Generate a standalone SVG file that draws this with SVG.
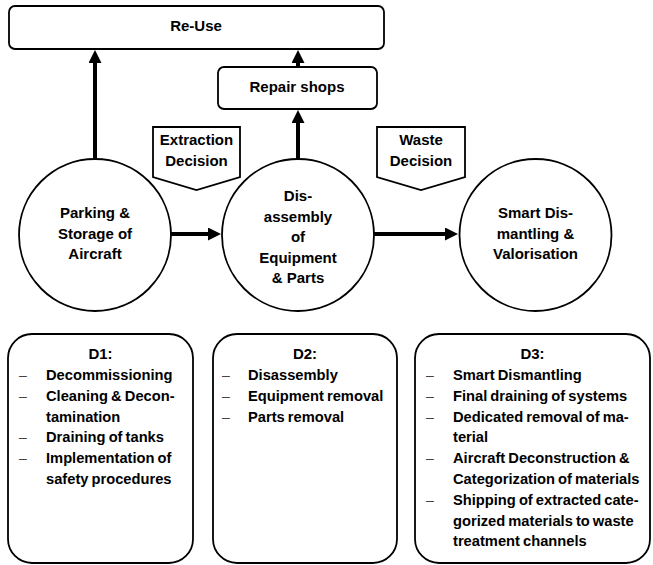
<svg xmlns="http://www.w3.org/2000/svg" width="653" height="565" viewBox="0 0 653 565">
<defs>
<style>
.box{fill:#fff;stroke:#000;stroke-width:1.8}
.t{font-family:"Liberation Sans",Arial,sans-serif;font-weight:bold;font-size:15px;fill:#000}
.c{text-anchor:middle}
.b{font-family:"Liberation Sans",Arial,sans-serif;font-weight:bold;font-size:14.7px;fill:#000;word-spacing:-1px}
.d{font-family:"Liberation Sans",Arial,sans-serif;font-size:14px;fill:#444}
.arr{stroke:#000;stroke-width:4;fill:none;marker-end:url(#ah)}
</style>
<marker id="ah" markerUnits="userSpaceOnUse" markerWidth="14" markerHeight="13" refX="1" refY="6.5" orient="auto">
<path d="M0,0 L13,6.5 L0,13 z" fill="#000"/>
</marker>
</defs>
<g id="connectors">
<line class="arr" x1="95" y1="159" x2="95" y2="62"/>
<line class="arr" x1="298" y1="159" x2="298" y2="122"/>
<line class="arr" x1="298" y1="67" x2="298" y2="62"/>
<line class="arr" x1="171" y1="234" x2="209" y2="234"/>
<line class="arr" x1="374" y1="234" x2="446" y2="234"/>
</g>
<g id="reuse">
<rect class="box" x="9" y="6" width="375" height="43" rx="6"/>
<text class="t c" x="196" y="31">Re-Use</text>
</g>
<g id="repair">
<rect class="box" x="218" y="67" width="159" height="42" rx="6"/>
<text class="t c" x="297" y="92">Repair shops</text>
</g>
<g id="extraction">
<polygon class="box" points="153,127 240,127 240,177 196.5,190 153,177"/>
<text class="t c" x="196.5" y="145">Extraction</text>
<text class="t c" x="196.5" y="166">Decision</text>
</g>
<g id="waste">
<polygon class="box" points="377,127 465,127 465,177 421,190 377,177"/>
<text class="t c" x="421" y="145">Waste</text>
<text class="t c" x="421" y="166">Decision</text>
</g>
<g id="parking">
<circle class="box" cx="95" cy="235" r="76"/>
<text class="t c" x="95" y="218">Parking &amp;</text>
<text class="t c" x="95" y="238.5">Storage of</text>
<text class="t c" x="95" y="259">Aircraft</text>
</g>
<g id="disassembly">
<circle class="box" cx="298" cy="235" r="76"/>
<text class="t c" x="298" y="201">Dis-</text>
<text class="t c" x="298" y="222">assembly</text>
<text class="t c" x="298" y="242">of</text>
<text class="t c" x="298" y="263">Equipment</text>
<text class="t c" x="298" y="283">&amp; Parts</text>
</g>
<g id="smart">
<circle class="box" cx="535.5" cy="235" r="76"/>
<text class="t c" x="535.5" y="218">Smart Dis-</text>
<text class="t c" x="535.5" y="238.5">mantling &amp;</text>
<text class="t c" x="535.5" y="259">Valorisation</text>
</g>
<g id="d1">
<rect class="box" x="8" y="334" width="185" height="229" rx="24"/>
<text class="t c" x="100.5" y="359">D1:</text>
<text class="d" x="19" y="380">–</text><text class="b" x="46" y="380">Decommissioning</text>
<text class="d" x="19" y="400.8">–</text><text class="b" x="46" y="400.8">Cleaning &amp; Decon-</text>
<text class="b" x="46" y="421.6">tamination</text>
<text class="d" x="19" y="442.4">–</text><text class="b" x="46" y="442.4">Draining of tanks</text>
<text class="d" x="19" y="463.2">–</text><text class="b" x="46" y="463.2">Implementation of</text>
<text class="b" x="46" y="484">safety procedures</text>
</g>
<g id="d2">
<rect class="box" x="213" y="334" width="184" height="229" rx="24"/>
<text class="t c" x="305" y="359">D2:</text>
<text class="d" x="222" y="380">–</text><text class="b" x="248" y="380">Disassembly</text>
<text class="d" x="222" y="400.8">–</text><text class="b" x="248" y="400.8">Equipment removal</text>
<text class="d" x="222" y="421.6">–</text><text class="b" x="248" y="421.6">Parts removal</text>
</g>
<g id="d3">
<rect class="box" x="415" y="334" width="235" height="229" rx="24"/>
<text class="t c" x="532.5" y="359">D3:</text>
<text class="d" x="426" y="380">–</text><text class="b" x="453" y="380">Smart Dismantling</text>
<text class="d" x="426" y="400.8">–</text><text class="b" x="453" y="400.8">Final draining of systems</text>
<text class="d" x="426" y="421.6">–</text><text class="b" x="453" y="421.6">Dedicated removal of ma-</text>
<text class="b" x="453" y="442.4">terial</text>
<text class="d" x="426" y="463.2">–</text><text class="b" x="453" y="463.2">Aircraft Deconstruction &amp;</text>
<text class="b" x="453" y="484">Categorization of materials</text>
<text class="d" x="426" y="504.8">–</text><text class="b" x="453" y="504.8">Shipping of extracted cate-</text>
<text class="b" x="453" y="525.6">gorized materials to waste</text>
<text class="b" x="453" y="546.4">treatment channels</text>
</g>
</svg>
